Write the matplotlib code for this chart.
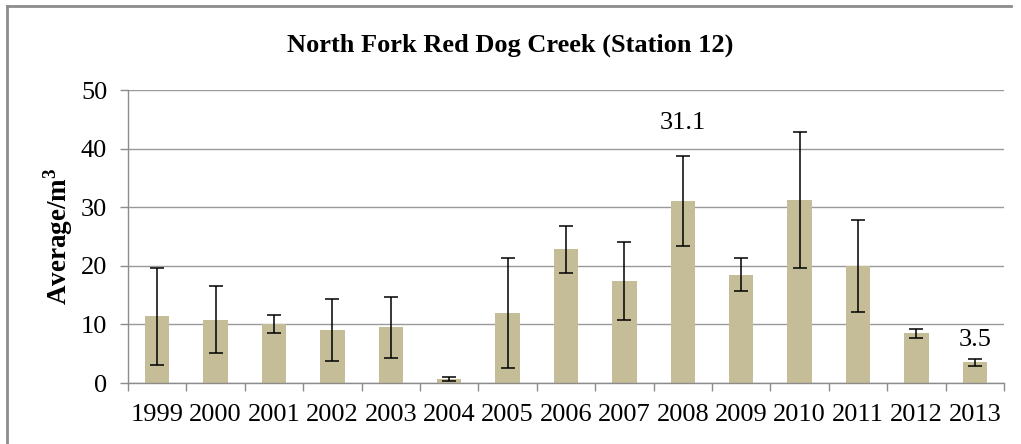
import matplotlib
matplotlib.use("Agg")
import matplotlib.pyplot as plt
from matplotlib.lines import Line2D

years = ["1999", "2000", "2001", "2002", "2003", "2004", "2005", "2006",
         "2007", "2008", "2009", "2010", "2011", "2012", "2013"]
averages = [11.4, 10.8, 10.0, 9.0, 9.5, 0.7, 11.9, 22.8,
            17.4, 31.1, 18.5, 31.2, 20.0, 8.5, 3.5]
errors = [8.3, 5.7, 1.55, 5.25, 5.25, 0.3, 9.4, 3.95,
          6.6, 7.7, 2.8, 11.6, 7.9, 0.77, 0.54]
labelled = {"2008": "31.1", "2013": "3.5"}
label_offsets_pt = {"2008": 56, "2013": 16}

plt.rcParams['font.family'] = ['Liberation Serif', 'DejaVu Serif']

fig = plt.figure(figsize=(10.21, 4.44), dpi=100)
ax = fig.add_axes([128/1021, 1-383/444, (1004-128)/1021, (383-90)/444])

x = list(range(len(years)))
ax.bar(x, averages, width=0.42, color="#C4BD97", zorder=2)
ax.errorbar(x, averages, yerr=errors, fmt="none", ecolor="black",
            elinewidth=1.1, capsize=4.8, capthick=1.1, zorder=3)

ax.set_xlim(-0.5, len(years) - 0.5)
ax.set_ylim(0, 50)
ax.set_yticks([0, 10, 20, 30, 40, 50])
ax.set_xticks(x)
ax.set_xticklabels(years)
ax.set_xticks([i - 0.5 for i in range(len(years) + 1)], minor=True)
ax.tick_params(axis='x', which='major', length=0, labelsize=19, pad=15)
ax.tick_params(axis='x', which='minor', length=6, color="#8c8c8c", width=1, direction='out')
ax.tick_params(axis='y', length=6, color="#8c8c8c", width=1, labelsize=19, pad=9)

ax.grid(axis='y', color="#999999", linewidth=1.0, zorder=0)
ax.set_axisbelow(True)
for s in ["top", "right"]:
    ax.spines[s].set_visible(False)
for s in ["left", "bottom"]:
    ax.spines[s].set_color("#8c8c8c")
    ax.spines[s].set_linewidth(1.0)

for i, yr in enumerate(years):
    if yr in labelled:
        ax.annotate(labelled[yr], xy=(i, averages[i]), xytext=(0, label_offsets_pt[yr]),
                    textcoords="offset points", ha="center", va="center", fontsize=19)

ax.set_ylabel("Average/m$^\\mathregular{3}$", fontsize=19.5, fontweight="bold", labelpad=4)
fig.text(0.5 + 0.0, 1 - 45/444, "North Fork Red Dog Creek (Station 12)",
         ha="center", va="center", fontsize=19, fontweight="bold")

# chart frame
fig.add_artist(Line2D([7/1021, 7/1021], [0, 1-6/444], transform=fig.transFigure,
                      color="#8c8c8c", linewidth=2))
fig.add_artist(Line2D([7/1021, 1011/1021], [1-6/444, 1-6/444], transform=fig.transFigure,
                      color="#8c8c8c", linewidth=2))

fig.savefig("out.png", dpi=100)
